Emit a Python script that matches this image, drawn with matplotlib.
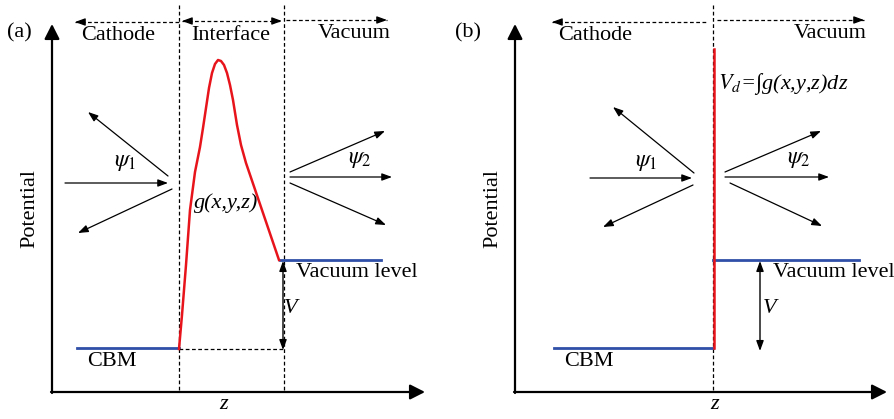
import numpy as np
import matplotlib.pyplot as plt

plt.rcParams['font.family'] = ['Liberation Serif', 'DejaVu Serif']
plt.rcParams['mathtext.fontset'] = 'stix'

# sketch geometry, in picture pixels (x right, y down)
# panel (a)
curve_a_x = [179, 182, 186, 190, 195, 200, 203, 206, 209, 212, 215, 218, 221, 224, 227, 230, 233, 237, 241, 246, 279]
curve_a_y = [349, 315, 265, 210, 172, 147, 128, 108, 88, 73, 64, 60, 61, 65, 73, 85, 100, 125, 145, 163, 260]
cbm_a = [77, 179]
vac_a = [280, 381]
bounds_a = [179, 284]
# panel (b)
wall_b = 713
spike_b = [49, 348]
cbm_b = [554, 713]
vac_b = [713, 859]

cbm_y = 348
vac_y = 260

region_names_a = ['Cathode', 'Interface', 'Vacuum']
region_x_a = [118, 231, 354]
region_names_b = ['Cathode', 'Vacuum']
region_x_b = [595, 830]

# wave arrows: (start, end)
waves_a = [((65, 183), (168, 183)), ((168, 176), (88, 112)), ((172, 189), (78, 233)),
           ((290, 172), (385, 131)), ((290, 177), (392, 177)), ((290, 183), (386, 225))]
waves_b = [((590, 178), (692, 178)), ((694, 173), (613, 107)), ((693, 185), (603, 227)),
           ((725, 172), (821, 131)), ((725, 177), (829, 177)), ((730, 183), (822, 226))]

fig = plt.figure(figsize=(8.94, 4.19), dpi=100)
ax = fig.add_axes([0, 0, 1, 1])
ax.set_xlim(0, 894)
ax.set_ylim(419, 0)
ax.axis('off')

fs = 16
thin = dict(arrowstyle='-|>,head_length=0.6,head_width=0.22', lw=0.9, color='k',
            mutation_scale=10, shrinkA=0, shrinkB=0)
big = dict(arrowstyle='-|>,head_length=0.75,head_width=0.38', lw=1.6, color='k',
           mutation_scale=12, shrinkA=0, shrinkB=0)
dbl = dict(arrowstyle='<|-|>,head_length=0.6,head_width=0.22', lw=1.0, color='k',
           mutation_scale=10, shrinkA=0, shrinkB=0)


def arrow(p0, p1, props):
    ax.annotate('', xy=p1, xytext=p0, arrowprops=props)


def dash_arrow(x0, x1, y, left, right):
    ax.plot([x0, x1], [y, y], color='k', lw=0.9, ls=(0, (3, 2)))
    if left:
        arrow((x0 + 6, y), (x0, y), thin)
    if right:
        arrow((x1 - 6, y), (x1, y), thin)


def frame(x0, x1, label, lx):
    arrow((x0, 393), (x0, 24), big)
    arrow((x0 - 1, 392), (x1, 392), big)
    ax.text(lx, 33, label, fontsize=fs, ha='center', va='center')
    ax.text(x0 - 22, 208, 'Potential', fontsize=fs, rotation=90, ha='center', va='center')


# ---- (a)
frame(52, 425, '(a)', 19)
for bx in bounds_a:
    ax.plot([bx, bx], [5, 392], color='k', lw=0.9, ls=(0, (3, 2)))
dash_arrow(75, 179, 22, True, False)
dash_arrow(182, 282, 21, True, True)
dash_arrow(286, 387, 20, False, True)
for name, x in zip(region_names_a, region_x_a):
    ax.text(x, 36 if name != 'Vacuum' else 33, name, fontsize=fs, ha='center', va='center')

ax.plot(cbm_a, [cbm_y, cbm_y], color='#2f4fa8', lw=2)
ax.plot(vac_a, [vac_y, vac_y], color='#2f4fa8', lw=2)
ax.plot([179, 284], [349, 349], color='k', lw=0.9, ls=(0, (3, 2)))
ax.plot(curve_a_x, curve_a_y, color='#e8141c', lw=1.8, solid_joinstyle='round')
arrow((283, 261), (283, 350), dbl)
ax.text(112, 361, 'CBM', fontsize=fs, ha='center', va='center')
ax.text(296, 272, 'Vacuum level', fontsize=fs, ha='left', va='center')
ax.text(291, 308, 'V', fontsize=fs, style='italic', ha='center', va='center')
ax.text(226, 203, 'g(x,y,z)', fontsize=fs, style='italic', ha='center', va='center')
ax.text(224, 404, 'z', fontsize=fs, style='italic', ha='center', va='center')
for p0, p1 in waves_a:
    arrow(p0, p1, thin)
ax.text(125, 162, r'$\psi_{\mathit{1}}$', fontsize=fs + 1, ha='center', va='center')
ax.text(360, 159, r'$\psi_{\mathit{2}}$', fontsize=fs + 1, ha='center', va='center')

# ---- (b)
frame(515, 887, '(b)', 468)
ax.plot([wall_b, wall_b], [5, 392], color='k', lw=0.9, ls=(0, (3, 2)))
dash_arrow(552, 708, 22, True, False)
dash_arrow(717, 864, 20, False, True)
for name, x in zip(region_names_b, region_x_b):
    ax.text(x, 36 if name != 'Vacuum' else 33, name, fontsize=fs, ha='center', va='center')

ax.plot(cbm_b, [cbm_y, cbm_y], color='#2f4fa8', lw=2)
ax.plot(vac_b, [vac_y, vac_y], color='#2f4fa8', lw=2)
ax.plot([wall_b + 0.5, wall_b + 0.5], spike_b, color='#e8141c', lw=1.8)
arrow((760, 261), (760, 351), dbl)
ax.text(589, 361, 'CBM', fontsize=fs, ha='center', va='center')
ax.text(773, 272, 'Vacuum level', fontsize=fs, ha='left', va='center')
ax.text(770, 308, 'V', fontsize=fs, style='italic', ha='center', va='center')
ax.text(718, 84, r'$V_{d}$=∫g(x,y,z)dz', fontsize=fs, style='italic', ha='left', va='center')
ax.text(715, 404, 'z', fontsize=fs, style='italic', ha='center', va='center')
for p0, p1 in waves_b:
    arrow(p0, p1, thin)
ax.text(646, 162, r'$\psi_{\mathit{1}}$', fontsize=fs + 1, ha='center', va='center')
ax.text(799, 159, r'$\psi_{\mathit{2}}$', fontsize=fs + 1, ha='center', va='center')

fig.savefig('out.png', dpi=100)
